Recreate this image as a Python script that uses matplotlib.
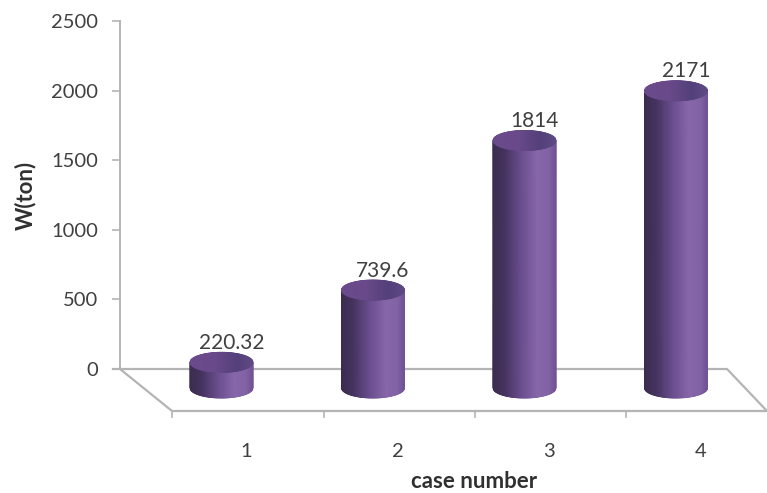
import numpy as np
import matplotlib
matplotlib.use("Agg")
import matplotlib.pyplot as plt
from matplotlib.colors import LinearSegmentedColormap
from matplotlib.transforms import ScaledTranslation

cases = [1, 2, 3, 4]
values = [220.32, 739.6, 1814, 2171]
labels = ["220.32", "739.6", "1814", "2171"]
yticks = [0, 500, 1000, 1500, 2000, 2500]

W, H = 767, 493
plt.rcParams['font.family'] = ['Lato', 'DejaVu Sans']
fig = plt.figure(figsize=(W / 100, H / 100), dpi=100)

left, right, top, bottom = 120, 727, 21, 369
ax = fig.add_axes([left / W, 1 - bottom / H, (right - left) / W, (bottom - top) / H])
px_x = 151.5
xlim = (1 + (left - 221.5) / px_x, 1 + (right - 221.5) / px_x)
sy = (bottom - top) / 2500
ylim = (0, 2500)
ax.set_xlim(*xlim)
ax.set_ylim(*ylim)

TXT = '#404040'
GR = '#b4b4b4'

cmap_body = LinearSegmentedColormap.from_list('body', [
    (0.0, '#3b2d50'), (0.18, '#45335f'), (0.45, '#6a4e8e'),
    (0.7, '#8766a9'), (0.9, '#8162a4'), (1.0, '#725296')])
cmap_top = LinearSegmentedColormap.from_list('top', [
    (0.0, '#6b4a8b'), (0.4, '#69498a'), (0.75, '#54407a'), (1.0, '#5f4a84')])

half_w = 31.5 / px_x            # half cylinder width, in x units
ell_h = 10 / sy                 # half ellipse height, in y units
top_shift = -24 / sy            # depth shift of the bar tops
base_y = -19 / sy               # centre of the bottom ellipse

u = np.linspace(-1, 1, 121)
shade = np.tile((u + 1) / 2, (2, 1))
arc = np.sqrt(1 - u ** 2)

for x, v in zip(cases, values):
    ty = v + top_shift
    X = np.vstack([x + half_w * u, x + half_w * u])
    Y = np.vstack([base_y - ell_h * arc, np.full_like(u, ty)])
    ax.pcolormesh(X, Y, shade, cmap=cmap_body, shading='gouraud',
                  zorder=3, clip_on=False, vmin=0, vmax=1)
    Yc = np.vstack([ty - ell_h * arc, ty + ell_h * arc])
    ax.pcolormesh(X, Yc, shade, cmap=cmap_top, shading='gouraud',
                  zorder=4, clip_on=False, vmin=0, vmax=1)

for x, v, lab in zip(cases, values, labels):
    ax.annotate(lab, (x, v + top_shift), xytext=(7.2, 14), textcoords='offset points',
                ha='center', va='center', fontsize=15, color=TXT, zorder=6,
                annotation_clip=False)

ax.patch.set_alpha(0)
for s in ['top', 'right', 'bottom']:
    ax.spines[s].set_visible(False)
ax.spines['left'].set_color(GR)
ax.spines['left'].set_linewidth(1.4)

ax.set_yticks(yticks)
ax.tick_params(axis='y', colors=TXT, labelsize=14.5, length=6, width=1.2, color=GR, pad=10)
ax.set_xticks(cases)
ax.set_xticklabels([str(c) for c in cases])
ax.tick_params(axis='x', length=0, labelsize=14.5, colors=TXT, pad=53)
shift = ScaledTranslation(25 / 100, 0, fig.dpi_scale_trans)
for lab in ax.get_xticklabels():
    lab.set_transform(lab.get_transform() + shift)
ax.set_xlim(*xlim)
ax.set_ylim(*ylim)

# floor of the 3D box, in pixel coordinates
def px(pts):
    return [(a / W, 1 - b / H) for a, b in pts]

floor = px([(113, 369), (727, 369), (767, 411), (172, 411), (120, 369)])
fx, fy = zip(*floor)
fig.add_artist(plt.Line2D(fx, fy, color=GR, lw=1.6, zorder=1))
ax.set_zorder(2)
for tx0 in [172, 323.5, 475, 626]:
    (x0, y0), (x1, y1) = px([(tx0, 411), (tx0, 417)])
    fig.add_artist(plt.Line2D([x0, x1], [y0, y1], color=GR, lw=1.2, zorder=1))

fig.text(25 / W, 1 - 195 / H, 'W(ton)', rotation=90, ha='center', va='center',
         fontsize=16, fontweight='bold', color='#303030')
fig.text(474 / W, 1 - 482 / H, 'case number', ha='center', va='center',
         fontsize=16, fontweight='bold', color='#303030')

fig.savefig('out.png', dpi=100)
